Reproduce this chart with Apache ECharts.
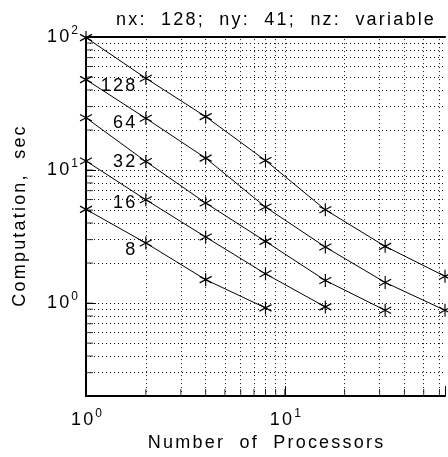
<!DOCTYPE html>
<html>
<head>
<meta charset="utf-8">
<script src="https://cdn.jsdelivr.net/npm/echarts@6/dist/echarts.min.js"></script>
<style>
  html, body { margin: 0; padding: 0; background: #fff; }
  #chart { width: 448px; height: 457px; }
</style>
</head>
<body>
<div id="chart"></div>
<script>
// number of processors and computation time (sec) for each nz
const procs = [1, 2, 4, 8, 16, 32, 64];
const nzNames = ['128', '64', '32', '16', '8'];
const time128 = [99, 49, 25.2, 11.8, 5.03, 2.67, 1.59];
const time64 = [47.8, 24.5, 12.3, 5.27, 2.64, 1.43, 0.883];
const time32 = [24.7, 11.6, 5.65, 2.91, 1.48, 0.883];
const time16 = [11.7, 5.98, 3.14, 1.66, 0.936];
const time8 = [5.06, 2.83, 1.5, 0.92];

// dotted grid lines / minor ticks (log decades)
const xMinor = [2, 3, 4, 5, 6, 7, 8, 9, 10, 20, 30, 40, 50, 60];
const yMinor = [0.3, 0.4, 0.5, 0.6, 0.7, 0.8, 0.9, 1, 2, 3, 4, 5, 6, 7, 8, 9, 10, 20, 30, 40, 50, 60, 70, 80, 90];

const FONT = 'Liberation Sans';
const charStyle = { fontFamily: FONT, fontSize: 18, fontWeight: 'normal', color: '#000', padding: [0, 1.1, 0, 1.1] };

// wide letter spacing like the original plot
function spaced(str) {
  return str.split('').map(ch => '{c|' + ch + '}').join('');
}

function powLabel(v) {
  const e = Math.log10(v);
  if (Math.abs(e - Math.round(e)) > 1e-6) return '';
  return '{b|1}{b|0}{s|' + Math.round(e) + '}';
}
const powRich = {
  b: { fontFamily: FONT, fontSize: 18, color: '#000', lineHeight: 24, padding: [0, 1.1, 0, 1.1] },
  s: { fontFamily: FONT, fontSize: 12, color: '#000', lineHeight: 15, verticalAlign: 'top', padding: [0, 0, 0, 1] }
};

const allTimes = [time128, time64, time32, time16, time8];
const labelDy = [8, 5, 1, 3, 7];

const lineSeries = allTimes.map((t, k) => ({
  type: 'line',
  name: nzNames[k],
  data: t.map((v, i) => {
    const item = { value: [procs[i], v] };
    if (i === 1) {
      item.label = {
        show: true,
        position: 'left',
        distance: 3,
        offset: [0, labelDy[k]],
        formatter: spaced(nzNames[k]),
        rich: { c: charStyle }
      };
    }
    return item;
  }),
  symbol: 'path://M6,0L6,12M0.5,3L11.5,9M0.5,9L11.5,3',
  symbolSize: [12, 13],
  itemStyle: { color: '#000', borderColor: '#000', borderWidth: 1.2 },
  lineStyle: { color: '#000', width: 1 },
  z: 5
}));

const chart = echarts.init(document.getElementById('chart'));
chart.setOption({
  animation: false,
  textStyle: { fontFamily: FONT },
  title: {
    text: spaced('nx:  128;  ny:  41;  nz:  variable'),
    left: 110,
    top: 6,
    textStyle: { fontWeight: 'normal', rich: { c: charStyle } }
  },
  grid: { left: 86, right: 1, top: 37, bottom: 60 },
  xAxis: [{
    type: 'log',
    min: 1,
    max: 64,
    name: spaced('Number  of  Processors'),
    nameLocation: 'middle',
    nameGap: 36,
    nameTextStyle: { rich: { c: charStyle } },
    axisLine: { lineStyle: { color: '#000', width: 2 } },
    axisTick: { inside: true, length: 10, lineStyle: { color: '#000' } },
    axisLabel: { margin: 12, formatter: powLabel, rich: powRich },
    splitLine: { show: false }
  }, {
    type: 'log',
    position: 'top',
    min: 1,
    max: 64,
    axisLine: { lineStyle: { color: '#000', width: 2 } },
    axisTick: { show: false },
    axisLabel: { show: false },
    splitLine: { show: false }
  }],
  yAxis: {
    type: 'log',
    min: 0.2,
    max: 100,
    name: spaced('Computation,  sec'),
    nameLocation: 'middle',
    nameGap: 57,
    nameTextStyle: { rich: { c: charStyle } },
    axisLine: { lineStyle: { color: '#000', width: 2 } },
    axisTick: { inside: true, length: 10, lineStyle: { color: '#000' } },
    axisLabel: { margin: 8, formatter: powLabel, rich: powRich },
    splitLine: { show: false }
  },
  series: [{
    type: 'scatter',
    data: [],
    silent: true,
    markLine: {
      silent: true,
      symbol: ['none', 'none'],
      label: { show: false },
      lineStyle: { color: '#111', width: 1, type: [1, 3] },
      data: xMinor.map(v => ({ xAxis: v })).concat(yMinor.map(v => ({ yAxis: v })))
    },
    z: 1
  }, {
    type: 'scatter',
    silent: true,
    data: yMinor.map(v => [1, v]),
    symbol: 'rect',
    symbolSize: [7, 1],
    symbolOffset: [3.5, 0],
    itemStyle: { color: '#000' },
    z: 3
  }, {
    type: 'scatter',
    silent: true,
    data: xMinor.map(v => [v, 0.2]),
    symbol: 'rect',
    symbolSize: [1, 7],
    symbolOffset: [0, -3.5],
    itemStyle: { color: '#000' },
    z: 3
  }].concat(lineSeries)
});
</script>
</body>
</html>
